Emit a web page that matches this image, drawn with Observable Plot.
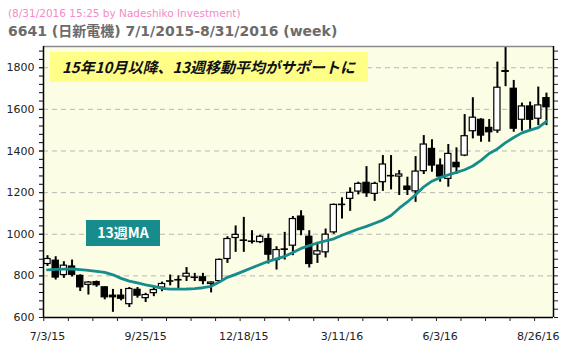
<!DOCTYPE html>
<html>
<head>
<meta charset="utf-8">
<script src="https://cdn.jsdelivr.net/npm/d3@7"></script>
<script src="https://cdn.jsdelivr.net/npm/@observablehq/plot@0.6"></script>
<style>
  html, body { margin: 0; padding: 0; background: #fff; }
  #wrap { position: relative; width: 566px; height: 349px; overflow: hidden; }
  svg { display: block; }
</style>
</head>
<body>
<div id="wrap"></div>
<script>
// weekly OHLC, week 0 = week of 7/3/15
const opens  = [857,873,804,845,800,757,770,745,705,705,664,733,693,717,744,772,778,796,792,793,761,775,881,982,970,965,962,977,876,927,945,1085,988,902,913,1009,1142,1170,1205,1247,1194,1250,1280,1277,1229,1206,1303,1410,1330,1266,1343,1378,1495,1550,1511,1498,1784,1699,1550,1614,1555,1654];
const highs  = [897,892,868,876,805,773,775,748,735,735,744,744,716,748,770,804,800,840,812,812,770,881,988,1040,1081,1017,995,1001,940,1009,1085,1113,1017,961,1025,1145,1175,1223,1250,1325,1250,1378,1378,1306,1274,1373,1474,1454,1362,1431,1415,1575,1656,1555,1551,1827,1902,1739,1630,1635,1707,1678];
const lows   = [845,780,788,795,725,708,745,685,625,680,648,693,672,700,724,752,737,773,773,757,718,765,860,913,913,953,955,857,828,876,897,993,838,860,886,1000,1073,1110,1189,1177,1158,1206,1213,1186,1186,1153,1287,1298,1250,1226,1287,1373,1458,1442,1442,1485,1709,1490,1495,1498,1522,1522];
const closes = [881,792,849,805,745,768,755,697,697,690,737,705,708,732,761,774,780,810,790,775,768,877,977,997,968,963,988,902,924,925,1073,1020,857,918,998,1141,1140,1199,1242,1197,1242,1335,1278,1287,1213,1301,1431,1330,1277,1386,1322,1471,1560,1474,1490,1704,1780,1507,1614,1550,1619,1610];
const ma13   = [829,831,832,833,830,826,822,817,805,788,775,766,757,749,740,736,736,737,739,743,750,770,793,807,823,839,855,870,882,894,912,932,945,958,968,978,995,1010,1025,1038,1053,1068,1090,1125,1155,1190,1228,1255,1272,1285,1297,1310,1328,1355,1388,1410,1440,1465,1487,1500,1512,1542];
const xTickWeeks  = [0,12,24,36,48,60];
const xTickLabels = ["7/3/15","9/25/15","12/18/15","3/11/16","6/3/16","8/26/16"];
const yLabelTicks = [600,800,1000,1200,1400,1600,1800];
const yGridTicks  = [800,1000,1200,1400,1600,1800];

const candles = opens.map((o, i) => ({i, open: o, high: highs[i], low: lows[i], close: closes[i], up: closes[i] >= o}));
const maData = ma13.map((v, i) => ({i, v}));
const yMinor = d3.range(600, 1901, 40);
const xMinor = d3.range(0, 62, 3).map(w => w - 0.45);

const font = "DejaVu Sans, Verdana, sans-serif";
const chart = Plot.plot({
  width: 566, height: 349,
  marginLeft: 43, marginRight: 13, marginTop: 46, marginBottom: 32,
  style: {fontFamily: font, fontSize: "11px", color: "#222", background: "transparent"},
  x: {domain: [-0.49, 61.86], axis: null},
  y: {domain: [600, 1902], axis: null},
  marks: [
    Plot.frame({fill: "#FBFDE4", stroke: "none"}),
    Plot.ruleY(yGridTicks, {stroke: "#b8b8b8", strokeDasharray: "5,4", strokeWidth: 1}),
    Plot.ruleX(candles, {x: "i", y1: "low", y2: "high", stroke: "#000", strokeWidth: 2}),
    Plot.rect(candles, {x1: d => d.i - 0.38, x2: d => d.i + 0.38, y1: "open", y2: "close",
      fill: d => d.up ? "#fff" : "#000", stroke: "#000", strokeWidth: 1.2}),
    Plot.line(maData, {x: "i", y: "v", stroke: "#178C8C", strokeWidth: 2.8, curve: "linear"}),
    // frame lines
    Plot.ruleY([1902], {stroke: "#8a8a8a", strokeWidth: 1.5}),
    Plot.ruleY([600], {stroke: "#000", strokeWidth: 1.5}),
    Plot.ruleX([-0.49, 61.86], {stroke: "#000", strokeWidth: 1.5}),
    // y axes
    Plot.axisY({anchor: "left", ticks: yMinor, tickSize: 4, tickFormat: () => "", label: null, stroke: "#000"}),
    Plot.axisY({anchor: "left", ticks: yLabelTicks, tickSize: 4, tickPadding: 5, tickFormat: d => String(d), label: null, fontSize: 11, fill: "#222"}),
    Plot.axisY({anchor: "right", ticks: yMinor, tickSize: 4, tickFormat: () => "", label: null}),
    // x axes
    Plot.axisX({anchor: "bottom", ticks: xMinor, tickSize: 4, tickFormat: () => "", label: null}),
    Plot.axisX({anchor: "bottom", ticks: xTickWeeks, tickSize: 0, tickPadding: 15,
      tickFormat: (d) => xTickLabels[xTickWeeks.indexOf(d)], label: null, fontSize: 11, fill: "#222"})
  ]
});

const svg = d3.select(chart);
svg.append("text").attr("x", 8).attr("y", 17).attr("text-anchor", "start")
  .attr("font-family", font).attr("font-size", 10.5).attr("fill", "#F58AC8")
  .text("(8/31/2016 15:25 by Nadeshiko Investment)");
svg.append("text").attr("x", 8).attr("y", 36).attr("text-anchor", "start")
  .attr("font-family", "DejaVu Sans, 'Noto Sans CJK JP', sans-serif").attr("font-size", 14).attr("font-weight", "bold").attr("fill", "#6b6b6b")
  .text("6641 (日新電機) 7/1/2015-8/31/2016 (week)");

// annotation boxes
const g = svg.append("g");
g.append("rect").attr("x", 50).attr("y", 52).attr("width", 318).attr("height", 30).attr("fill", "#FFFF88");
g.append("text").attr("x", 62).attr("y", 73).attr("text-anchor", "start")
  .attr("font-family", "'Noto Sans CJK JP', sans-serif").attr("font-size", 15).attr("font-weight", "bold").attr("font-style", "italic").attr("fill", "#111")
  .text("15年10月以降、13週移動平均がサポートに");
g.append("rect").attr("x", 86).attr("y", 220).attr("width", 74).attr("height", 26).attr("fill", "#178C8C");
g.append("text").attr("x", 123).attr("y", 238).attr("text-anchor", "middle")
  .attr("font-family", "'Noto Sans CJK JP', sans-serif").attr("font-size", 14).attr("font-weight", "bold").attr("fill", "#fff")
  .text("13週MA");

document.getElementById("wrap").appendChild(chart);
</script>
</body>
</html>
